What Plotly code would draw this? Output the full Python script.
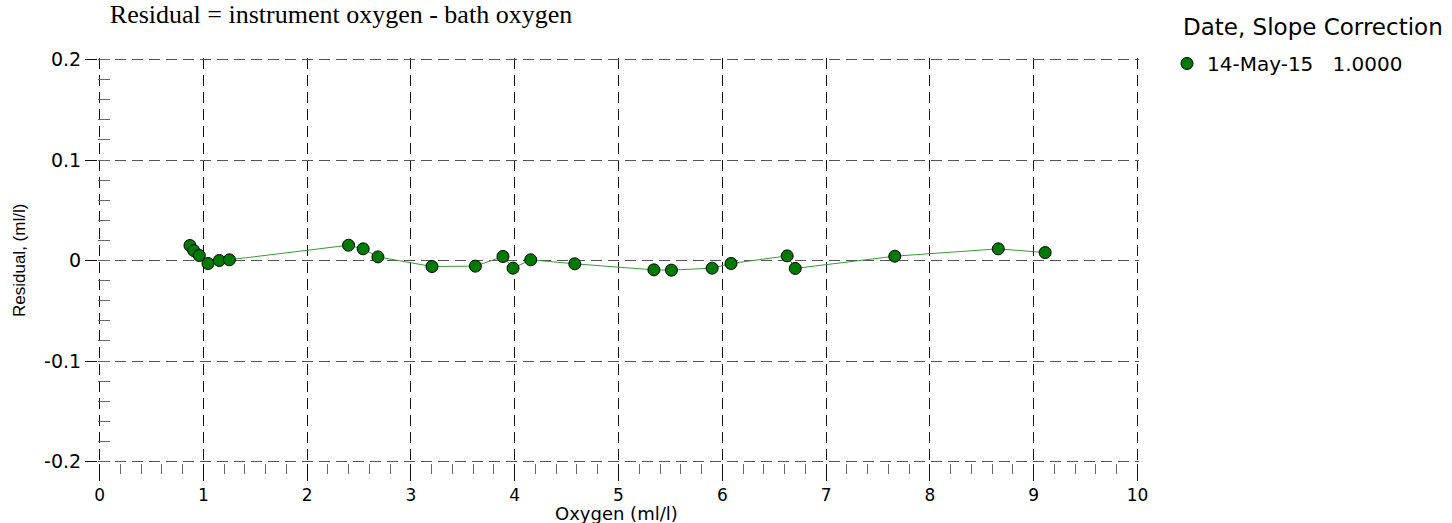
import plotly.graph_objects as go

# Data
oxygen = [0.871, 0.907, 0.961, 1.045, 1.154, 1.251, 2.399, 2.540, 2.682,
          3.203, 3.621, 3.887, 3.984, 4.154, 4.579, 5.341, 5.510, 5.902,
          6.084, 6.625, 6.703, 7.662, 8.659, 9.111]
residual = [0.0149, 0.0099, 0.0050, -0.0030, 0.0000, 0.0007, 0.0152, 0.0116, 0.0036,
            -0.0060, -0.0056, 0.0040, -0.0076, 0.0007, -0.0033, -0.0093, -0.0096, -0.0076,
            -0.0030, 0.0046, -0.0079, 0.0043, 0.0116, 0.0079]
series_name = "14-May-15\u00a0\u00a0\u00a01.0000"
legend_title = "Date, Slope Correction"
title_text = "Residual = instrument oxygen - bath oxygen"
x_title = "Oxygen (ml/l)"
y_title = "Residual, (ml/l)"
x_tickvals = [0, 1, 2, 3, 4, 5, 6, 7, 8, 9, 10]
x_ticktext = ["0", "1", "2", "3", "4", "5", "6", "7", "8", "9", "10"]
y_tickvals = [0.2, 0.1, 0, -0.1, -0.2]
y_ticktext = ["0.2", "0.1", "0", "-0.1", "-0.2"]

SANS = "DejaVu Sans"

fig = go.Figure()
# connecting line (not in legend)
fig.add_trace(go.Scatter(
    x=oxygen, y=residual, mode="lines", showlegend=False, hoverinfo="skip",
    line=dict(color="#3a9a3a", width=1),
))
# markers (legend entry shows marker only)
fig.add_trace(go.Scatter(
    x=oxygen, y=residual, mode="markers", name=series_name,
    marker=dict(size=12, color="#007a00", line=dict(color="#000000", width=1)),
))

fig.update_layout(
    width=1452, height=523,
    margin=dict(l=98, r=313, t=58, b=60, autoexpand=False),
    paper_bgcolor="white", plot_bgcolor="white",
    showlegend=True,
    title=dict(text=title_text, x=341 / 1452, xanchor="center", xref="container",
               y=1 - 5 / 523, yanchor="top", yref="container", pad=dict(t=0, b=0, l=0, r=0),
               font=dict(family="Liberation Serif", size=26, color="black")),
    legend=dict(x=1.0269, xanchor="left", y=1.0346, yanchor="top",
                font=dict(family=SANS, size=20, color="black"),
                bgcolor="rgba(0,0,0,0)", borderwidth=0),
    xaxis=dict(range=[-0.015, 10.015], tickvals=x_tickvals, ticktext=x_ticktext,
               ticks="outside", ticklen=17, tickcolor="#111", tickwidth=1,
               showgrid=True, gridcolor="#111", griddash="11px,6px", gridwidth=1,
               zeroline=False, showline=False, automargin=False,
               tickfont=dict(family=SANS, size=17, color="black"),
               minor=dict(ticks="outside", ticklen=10, dtick=0.2, tick0=0, tickcolor="#666", showgrid=False)),
    yaxis=dict(range=[-0.2015, 0.2015], tickvals=y_tickvals, ticktext=y_ticktext,
               ticks="outside", ticklen=12, tickcolor="#111", tickwidth=1,
               showgrid=True, gridcolor="#555", griddash="11px,6px", gridwidth=1,
               zeroline=False, showline=False, automargin=False,
               tickfont=dict(family=SANS, size=19, color="black"),
               minor=dict(ticks="inside", ticklen=12, dtick=0.02, tick0=0, tickcolor="#666", showgrid=False)),
    annotations=[
        dict(text=legend_title, xref="paper", yref="paper", x=1.0403, y=1.0765,
             xanchor="left", yanchor="middle", showarrow=False,
             font=dict(family=SANS, size=23, color="black")),
        dict(text=x_title, xref="paper", yref="paper", x=0.4976, y=-0.1235,
             xanchor="center", yanchor="middle", showarrow=False,
             font=dict(family=SANS, size=18, color="black")),
        dict(text=y_title, xref="paper", yref="paper", x=-0.0754, y=0.5,
             xanchor="center", yanchor="middle", showarrow=False, textangle=-90,
             font=dict(family="Liberation Sans", size=17, color="black")),
    ],
)

fig.write_html("out.html", config={"displayModeBar": False},
               post_script="document.body.style.margin='0';")
